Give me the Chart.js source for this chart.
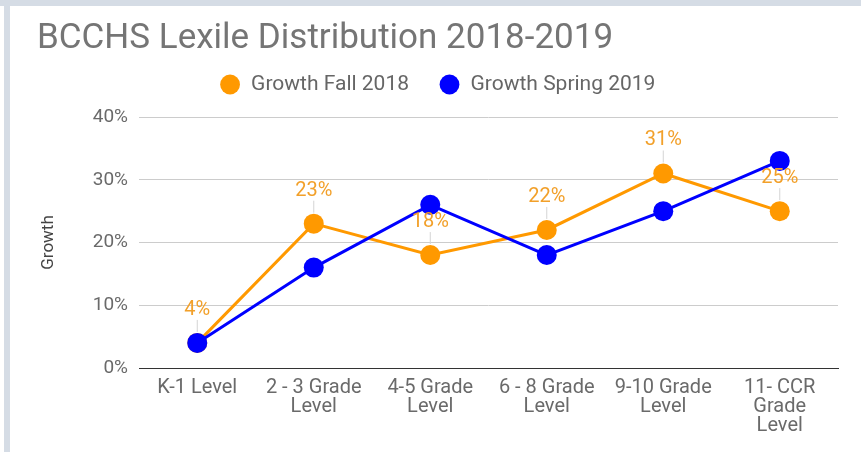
<!DOCTYPE html>
<html>
<head>
<meta charset="utf-8">
<script src="https://cdn.jsdelivr.net/npm/chart.js@4.4.1/dist/chart.umd.min.js"></script>
<style>
  html, body { margin: 0; padding: 0; background: #fff; }
  body { width: 861px; height: 452px; position: relative; overflow: hidden; }
  .band-top { position: absolute; left: 0; top: 0; width: 861px; height: 6px; background: #d5dce5; }
  .band-left { position: absolute; left: 4px; top: 0; width: 6px; height: 452px; background: #d5dce5; }
  .card { position: absolute; left: 10px; top: 6px; width: 851px; height: 446px; background: #fff; }
</style>
</head>
<body>
<div class="band-top"></div>
<div class="band-left"></div>
<div class="card"><canvas id="chart"></canvas></div>
<script>
const categories = [
    ["K-1 Level"],
    ["2 - 3 Grade", "Level"],
    ["4-5 Grade", "Level"],
    ["6 - 8 Grade", "Level"],
    ["9-10 Grade", "Level"],
    ["11- CCR", "Grade", "Level"],
];
const fall2018 = [4, 23, 18, 22, 31, 25];
const spring2019 = [4, 16, 26, 18, 25, 33];
const yTicks = [0, 10, 20, 30, 40];

const ORANGE = "#ff9900";
const BLUE = "#0000ff";
const FONT = "Roboto";

// orange value labels above the Fall points, with a thin leader line
const pointLabels = {
    id: "pointLabels",
    afterDatasetsDraw(chart) {
        const ctx = chart.ctx;
        const meta = chart.getDatasetMeta(0);
        ctx.save();
        ctx.font = `20px ${FONT}`;
        ctx.textAlign = "center";
        ctx.textBaseline = "middle";
        meta.data.forEach((pt, i) => {
            ctx.strokeStyle = "#d4d4d4";
            ctx.lineWidth = 1;
            ctx.beginPath();
            ctx.moveTo(pt.x, pt.y - 23);
            ctx.lineTo(pt.x, pt.y - 11);
            ctx.stroke();
            ctx.fillStyle = "#f2a02a";
            ctx.fillText(fall2018[i] + "%", pt.x, pt.y - 33);
        });
        ctx.restore();
    },
};

// leave a wider gap between the legend and the plot
const legendGap = {
    id: "legendGap",
    beforeInit(chart) {
        const fit = chart.legend.fit;
        chart.legend.fit = function () {
            fit.call(this);
            this.height += 12;
        };
    },
};

new Chart(document.getElementById("chart"), {
    type: "line",
    data: {
        labels: categories,
        datasets: [
            {
                label: "Growth Fall 2018",
                data: fall2018,
                borderColor: ORANGE,
                backgroundColor: ORANGE,
                borderWidth: 3,
                pointRadius: 10,
                pointHoverRadius: 10,
                pointBorderWidth: 0,
                order: 1,
            },
            {
                label: "Growth Spring 2019",
                data: spring2019,
                borderColor: BLUE,
                backgroundColor: BLUE,
                borderWidth: 3,
                pointRadius: 10,
                pointHoverRadius: 10,
                pointBorderWidth: 0,
                order: 0,
            },
        ],
    },
    options: {
        responsive: true,
        maintainAspectRatio: false,
        animation: false,
        layout: { padding: { left: 27, right: 23, top: 0, bottom: 0 } },
        plugins: {
            tooltip: { enabled: false },
            title: {
                display: true,
                text: "BCCHS Lexile Distribution 2018-2019",
                align: "start",
                color: "#757575",
                font: { family: FONT, size: 35, weight: "normal" },
                padding: { top: 12, bottom: -16 },
            },
            legend: {
                position: "top",
                labels: {
                    usePointStyle: true,
                    pointStyle: "circle",
                    boxWidth: 21,
                    boxHeight: 14,
                    padding: 30,
                    color: "#666",
                    font: { family: FONT, size: 21 },
                    sort: (a, b) => a.datasetIndex - b.datasetIndex,
                },
            },
        },
        scales: {
            x: {
                offset: true,
                grid: { display: false, drawTicks: false },
                border: { color: "#333", width: 1 },
                ticks: {
                    autoSkip: false,
                    maxRotation: 0,
                    padding: 10,
                    color: "#6a6a6a",
                    font: { family: FONT, size: 20, lineHeight: 0.95 },
                },
                afterFit(scale) {
                    scale.height = 84;
                },
            },
            y: {
                min: 0,
                max: 40,
                grid: { color: "#cccccc", drawTicks: false },
                border: { display: false },
                ticks: {
                    padding: 11,
                    color: "#6a6a6a",
                    font: { family: FONT, size: 19 },
                    callback: (v) => v + "%",
                },
                afterBuildTicks(scale) {
                    scale.ticks = yTicks.map((v) => ({ value: v }));
                },
                title: {
                    display: true,
                    text: "Growth",
                    color: "#444",
                    font: { family: FONT, size: 17 },
                    padding: { top: 1.5, bottom: 0 },
                },
                afterFit(scale) {
                    scale.width = 102;
                },
            },
        },
    },
    plugins: [pointLabels, legendGap],
});
</script>
</body>
</html>
